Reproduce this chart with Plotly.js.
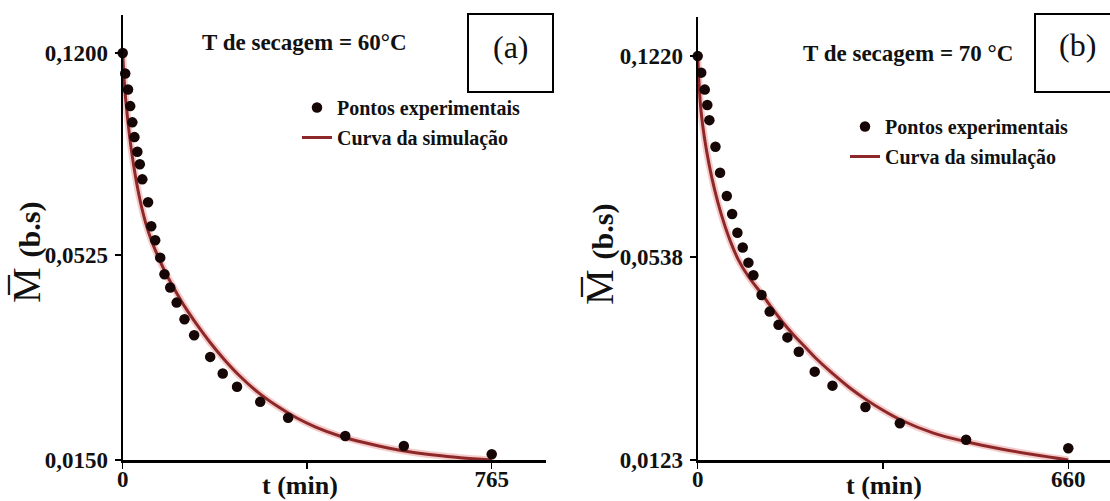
<!DOCTYPE html>
<html>
<head>
<meta charset="utf-8">
<script src="https://cdn.plot.ly/plotly-3.0.1.min.js"></script>
<style>html,body{margin:0;padding:0;background:#fff;}#chart{width:1110px;height:501px;}</style>
</head>
<body>
<div id="chart"></div>
<script>
// ---- Panel (a): T = 60 °C ----
const tPointsA = [0, 5.2, 11.1, 15.6, 20, 24.4, 30.4, 35.5, 40.7, 52.6, 59.2, 67.4, 77.8, 86.6, 98.5, 111.8, 128.1, 148.1, 181.4, 207.4, 237, 285.1, 342.9, 461.4, 582.8, 765];
const mPointsA = [0.1200, 0.1147, 0.1106, 0.1063, 0.1021, 0.0983, 0.0945, 0.0913, 0.0874, 0.0815, 0.0753, 0.0717, 0.0672, 0.0629, 0.0595, 0.0556, 0.0513, 0.0472, 0.0416, 0.0373, 0.0339, 0.0300, 0.0259, 0.0212, 0.0186, 0.0165];
const tCurveA = [0, 3, 7, 12, 18, 26, 36, 48, 60, 75, 90, 110, 130, 155, 180, 210, 240, 280, 320, 360, 400, 450, 500, 550, 600, 650, 700, 765];
const mCurveA = [0.1200, 0.1130, 0.1070, 0.1010, 0.0950, 0.0885, 0.0820, 0.0760, 0.0715, 0.0670, 0.0630, 0.0585, 0.0543, 0.0497, 0.0455, 0.0410, 0.0370, 0.0325, 0.0289, 0.0259, 0.0235, 0.0212, 0.0195, 0.0181, 0.0170, 0.0162, 0.0156, 0.0150];
const yTickValsA = [0.015, 0.0679, 0.12];
const yTickTextA = ['0,0150', '0,0525', '0,1200'];
const xTickValsA = [0, 382.5, 765];
const xTickTextA = ['0', '', '765'];

// ---- Panel (b): T = 70 °C ----
const tPointsB = [0, 6.3, 12.6, 17.1, 20.8, 31.6, 39.8, 51.8, 61.3, 70.7, 80.2, 90.3, 99.2, 113.7, 128.2, 144, 159.8, 180, 208.4, 240, 298.7, 360, 478, 660];
const mPointsB = [0.1220, 0.1175, 0.1129, 0.1087, 0.1046, 0.0974, 0.0903, 0.0840, 0.0791, 0.0740, 0.0700, 0.0659, 0.0625, 0.0571, 0.0526, 0.0490, 0.0456, 0.0417, 0.0363, 0.0325, 0.0267, 0.0223, 0.0178, 0.0155];
const tCurveB = [0, 2.4, 6, 12, 20, 30, 42, 55, 72, 90, 115, 130, 150, 170, 190, 210, 240, 270, 300, 330, 360, 420, 480, 540, 600, 660];
const mCurveB = [0.1220, 0.1146, 0.1070, 0.0998, 0.0928, 0.0858, 0.0790, 0.0730, 0.0668, 0.0622, 0.0572, 0.0540, 0.0500, 0.0464, 0.0432, 0.0400, 0.0358, 0.0320, 0.0287, 0.0258, 0.0233, 0.0196, 0.0172, 0.0153, 0.0137, 0.0123];
const yTickValsB = [0.0123, 0.0675, 0.122];
const yTickTextB = ['0,0123', '0,0538', '0,1220'];
const xTickValsB = [0, 330, 660];
const xTickTextB = ['0', '', '660'];

const seriesNames = ['Pontos experimentais', 'Curva da simulação'];
const panelTitles = ['T de secagem = 60°C', 'T de secagem = 70 °C'];
const panelLabels = ['(a)', '(b)'];
const xTitle = 't (min)';
const yTitle = "M\u0305 <span style='font-size:30px'><b>(b.s)</b></span>";

const serif = 'Liberation Serif, Times New Roman, serif';
const curveColor = '#8e2828';
const haloColor = 'rgba(225,110,110,0.35)';
const dotColor = '#170606';

function panelTraces(tP, mP, tC, mC, xa, ya, leg) {
  return [
    {x: tC, y: mC, xaxis: xa, yaxis: ya, mode: 'lines', type: 'scatter', showlegend: false, hoverinfo: 'skip',
     line: {color: haloColor, width: 7, shape: 'spline'}, cliponaxis: false},
    {x: tC, y: mC, xaxis: xa, yaxis: ya, mode: 'lines', type: 'scatter', name: seriesNames[1], legend: leg,
     legendgroup: leg + 'c', legendrank: 2,
     line: {color: curveColor, width: 3, shape: 'spline'}, cliponaxis: false},
    {x: tP, y: mP, xaxis: xa, yaxis: ya, mode: 'markers', type: 'scatter', name: seriesNames[0], legend: leg,
     legendgroup: leg + 'p', legendrank: 1,
     marker: {color: dotColor, size: 10.5}, cliponaxis: false}
  ];
}

const data = [].concat(
  panelTraces(tPointsA, mPointsA, tCurveA, mCurveA, 'x', 'y', 'legend'),
  panelTraces(tPointsB, mPointsB, tCurveB, mCurveB, 'x2', 'y2', 'legend2')
);

function xAxis(domain, range, vals, text, anchor) {
  return {domain: domain, range: range, anchor: anchor, showgrid: false, zeroline: false,
    showline: true, linecolor: '#000', linewidth: 2.5, ticks: 'outside', ticklen: 6, tickwidth: 1.5, tickcolor: '#000',
    tickmode: 'array', tickvals: vals, ticktext: text, ticklabelstandoff: -9,
    tickfont: {family: serif, size: 23, color: '#111', weight: 'bold'}};
}
function yAxis(domain, range, vals, text, anchor) {
  return {domain: domain, range: range, anchor: anchor, showgrid: false, zeroline: false,
    showline: true, linecolor: '#000', linewidth: 2, ticks: 'outside', ticklen: 6, tickwidth: 1.5, tickcolor: '#000',
    tickmode: 'array', tickvals: vals, ticktext: text, ticklabelstandoff: 2,
    tickfont: {family: serif, size: 23, color: '#111', weight: 'bold'}};
}

const W = 1110, H = 501;
const px = v => v / W, py = v => 1 - v / H;
const legFont = {family: serif, size: 20, color: '#111', weight: 'bold'};

const layout = {
  width: W, height: H, margin: {l: 0, r: 0, t: 0, b: 0},
  paper_bgcolor: '#fff', plot_bgcolor: 'rgba(0,0,0,0)', showlegend: true,
  xaxis: xAxis([px(122.7), px(546)], [0, 877.5], xTickValsA, xTickTextA, 'y'),
  yaxis: yAxis([py(460), py(15)], [0.015, 0.1298], yTickValsA, yTickTextA, 'x'),
  xaxis2: xAxis([px(697.7), 1], [0, 734.3], xTickValsB, xTickTextB, 'y2'),
  yaxis2: yAxis([py(460), py(16.7)], [0.0123, 0.1327], yTickValsB, yTickTextB, 'x2'),
  legend: {x: px(297), y: py(88), xanchor: 'left', yanchor: 'top', bgcolor: 'rgba(0,0,0,0)',
    traceorder: 'grouped', tracegroupgap: 1, itemwidth: 30, font: legFont},
  legend2: {x: px(845), y: py(107), xanchor: 'left', yanchor: 'top', bgcolor: 'rgba(0,0,0,0)',
    traceorder: 'grouped', tracegroupgap: 1, itemwidth: 30, font: legFont},
  shapes: [
    {type: 'rect', xref: 'paper', yref: 'paper', x0: px(468), x1: px(553), y0: py(92), y1: py(14), line: {color: '#000', width: 2}},
    {type: 'rect', xref: 'paper', yref: 'paper', x0: px(1035), x1: px(1112), y0: py(92), y1: py(14), line: {color: '#000', width: 2}}
  ],
  annotations: [
    {xref: 'paper', yref: 'paper', x: px(304), y: py(42), text: panelTitles[0], showarrow: false,
     font: {family: serif, size: 23, color: '#111', weight: 'bold'}, xanchor: 'center', yanchor: 'middle'},
    {xref: 'paper', yref: 'paper', x: px(908), y: py(53), text: panelTitles[1], showarrow: false,
     font: {family: serif, size: 23, color: '#111', weight: 'bold'}, xanchor: 'center', yanchor: 'middle'},
    {xref: 'paper', yref: 'paper', x: px(511), y: py(47), text: panelLabels[0], showarrow: false,
     font: {family: serif, size: 32, color: '#111'}, xanchor: 'center', yanchor: 'middle'},
    {xref: 'paper', yref: 'paper', x: px(1077), y: py(45), text: panelLabels[1], showarrow: false,
     font: {family: serif, size: 32, color: '#111'}, xanchor: 'center', yanchor: 'middle'},
    {xref: 'paper', yref: 'paper', x: px(300), y: py(485), text: xTitle, showarrow: false,
     font: {family: serif, size: 26, color: '#111', weight: 'bold'}, xanchor: 'center', yanchor: 'middle'},
    {xref: 'paper', yref: 'paper', x: px(884), y: py(485), text: xTitle, showarrow: false,
     font: {family: serif, size: 26, color: '#111', weight: 'bold'}, xanchor: 'center', yanchor: 'middle'},
    {xref: 'paper', yref: 'paper', x: px(26), y: py(253), textangle: -90, showarrow: false, text: yTitle,
     font: {family: serif, size: 40, color: '#111'}, xanchor: 'center', yanchor: 'middle'},
    {xref: 'paper', yref: 'paper', x: px(599), y: py(255), textangle: -90, showarrow: false, text: yTitle,
     font: {family: serif, size: 40, color: '#111'}, xanchor: 'center', yanchor: 'middle'}
  ]
};

Plotly.newPlot('chart', data, layout, {staticPlot: true, displayModeBar: false});
</script>
</body>
</html>
